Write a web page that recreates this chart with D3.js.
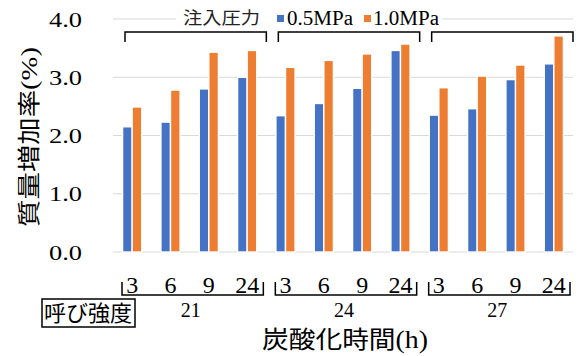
<!DOCTYPE html>
<html><head><meta charset="utf-8">
<script src="https://cdn.jsdelivr.net/npm/d3@7"></script>
<style>
html,body{margin:0;padding:0;background:#fff;}
svg{display:block;}
.serif{font-family:"Liberation Serif","Times New Roman",serif;}
.cjk{font-family:"Noto Sans CJK JP","Noto Sans",sans-serif;}
</style></head>
<body>
<svg id="chart" width="579" height="356"></svg>
<script>
const strengths = ["21", "24", "27"];
const times = ["3", "6", "9", "24"];
const seriesNames = ["0.5MPa", "1.0MPa"];
const pressure05 = [2.15, 2.23, 2.80, 3.00, 2.34, 2.55, 2.81, 3.46, 2.35, 2.46, 2.96, 3.23];
const pressure10 = [2.49, 2.78, 3.43, 3.46, 3.17, 3.29, 3.40, 3.57, 2.82, 3.02, 3.21, 3.71];
const yTicks = [0, 1, 2, 3, 4];
const legendTitle = "注入圧力";
const groupTitle = "呼び強度";
const yTitle = "質量増加率";
const xTitle = "炭酸化時間";

const colors = ["#4472C4", "#ED7D31"];
const svg = d3.select("#chart");

const keys = [];
strengths.forEach(s => times.forEach(t => keys.push(s + "-" + t)));
const rows = keys.map((k, i) => ({key: k, time: k.split("-")[1], values: [pressure05[i], pressure10[i]]}));

const x = d3.scaleBand().domain(keys).range([113, 573]).padding(0);
const bw = x.bandwidth();
const xs = d3.scaleBand().domain(seriesNames).range([bw * 0.25, bw * 0.75]).padding(0);
const y = d3.scaleLinear().domain([0, 4]).range([252, 19]);

// gridlines
svg.append("g").selectAll("line").data(yTicks).join("line")
  .attr("x1", 113).attr("x2", 573)
  .attr("y1", d => y(d)).attr("y2", d => y(d))
  .attr("stroke", "#d9d9d9").attr("stroke-width", 1);

// y axis labels
const yAxis = svg.append("g").attr("transform", "translate(113,0)")
  .call(d3.axisLeft(y).tickValues(yTicks).tickFormat(d3.format(".1f")).tickSize(0).tickPadding(31));
yAxis.select(".domain").remove();
yAxis.selectAll("text").attr("class", "serif").attr("font-size", 22).attr("fill", "#000")
  .attr("font-family", null).attr("textLength", 33).attr("lengthAdjust", "spacingAndGlyphs");

// bars
const g = svg.append("g").selectAll("g").data(rows).join("g")
  .attr("transform", d => `translate(${x(d.key)},0)`);
g.selectAll("rect").data(d => d.values.map((v, i) => ({name: seriesNames[i], v, i}))).join("rect")
  .attr("x", d => xs(d.name)).attr("width", xs.bandwidth())
  .attr("y", d => y(d.v)).attr("height", d => y(0) - y(d.v))
  .attr("fill", d => colors[d.i]).attr("stroke", "#fff").attr("stroke-width", 1.4);

// x axis category labels
const xAxis = svg.append("g").attr("transform", "translate(0,252)")
  .call(d3.axisBottom(x).tickSize(0).tickPadding(0).tickFormat(k => k.split("-")[1]));
xAxis.select(".domain").remove();
xAxis.selectAll("text").attr("class", "serif").attr("font-family", null)
  .attr("font-size", 24).attr("fill", "#000").attr("dy", null).attr("y", 41);

// group boundaries
const bounds = strengths.map(s => [x(s + "-" + times[0]), x(s + "-" + times[times.length - 1]) + bw]);

// top brackets
svg.append("g").selectAll("path").data(bounds).join("path")
  .attr("d", d => `M${d[0] + 12},42 V32 H${d[1]} V42`)
  .attr("fill", "none").attr("stroke", "#000").attr("stroke-width", 1.5);

// bottom brackets
svg.append("g").selectAll("path").data(bounds).join("path")
  .attr("d", d => `M${d[0] + 9},282 V295 H${d[1] - 3} V282`)
  .attr("fill", "none").attr("stroke", "#000").attr("stroke-width", 1.5);

// group labels
svg.append("g").selectAll("text").data(strengths).join("text")
  .attr("class", "serif").attr("font-size", 20).attr("text-anchor", "middle")
  .attr("x", (s, i) => (bounds[i][0] + bounds[i][1]) / 2 + 1).attr("y", 317)
  .text(d => d);

// legend
svg.append("rect").attr("x", 176).attr("y", 8).attr("width", 266).attr("height", 20).attr("fill", "#fff");
svg.append("text").attr("class", "cjk").attr("font-size", 17).attr("x", 183).attr("y", 24)
  .attr("textLength", 77).attr("lengthAdjust", "spacingAndGlyphs").attr("fill", "#222").text(legendTitle);
const legX = [277, 364];
const legTextX = [287, 373];
seriesNames.forEach((n, i) => {
  svg.append("rect").attr("x", legX[i]).attr("y", 15).attr("width", 7).attr("height", 7).attr("fill", colors[i]);
  svg.append("text").attr("class", "serif").attr("font-size", 20).attr("x", legTextX[i]).attr("y", 25)
    .attr("textLength", 66).attr("lengthAdjust", "spacingAndGlyphs").text(n);
});

// group title box
svg.append("rect").attr("x", 42).attr("y", 299).attr("width", 93).attr("height", 28)
  .attr("fill", "#fff").attr("stroke", "#000").attr("stroke-width", 1.5);
svg.append("text").attr("class", "cjk").attr("font-size", 22).attr("x", 44).attr("y", 321)
  .attr("textLength", 88).attr("lengthAdjust", "spacingAndGlyphs").text(groupTitle);

// x title
const xt = svg.append("text").attr("x", 262).attr("y", 348)
  .attr("textLength", 166).attr("lengthAdjust", "spacingAndGlyphs");
xt.append("tspan").attr("class", "cjk").attr("font-size", 24).text(xTitle);
xt.append("tspan").attr("class", "serif").attr("font-size", 25).text("(h)");

// y title
const yt = svg.append("text").attr("transform", "translate(37,227) rotate(-90)")
  .attr("x", 0).attr("y", 0).attr("textLength", 180).attr("lengthAdjust", "spacingAndGlyphs");
yt.append("tspan").attr("class", "cjk").attr("font-size", 23).text(yTitle);
yt.append("tspan").attr("class", "serif").attr("font-size", 24).text("(%)");
</script>
</body></html>
